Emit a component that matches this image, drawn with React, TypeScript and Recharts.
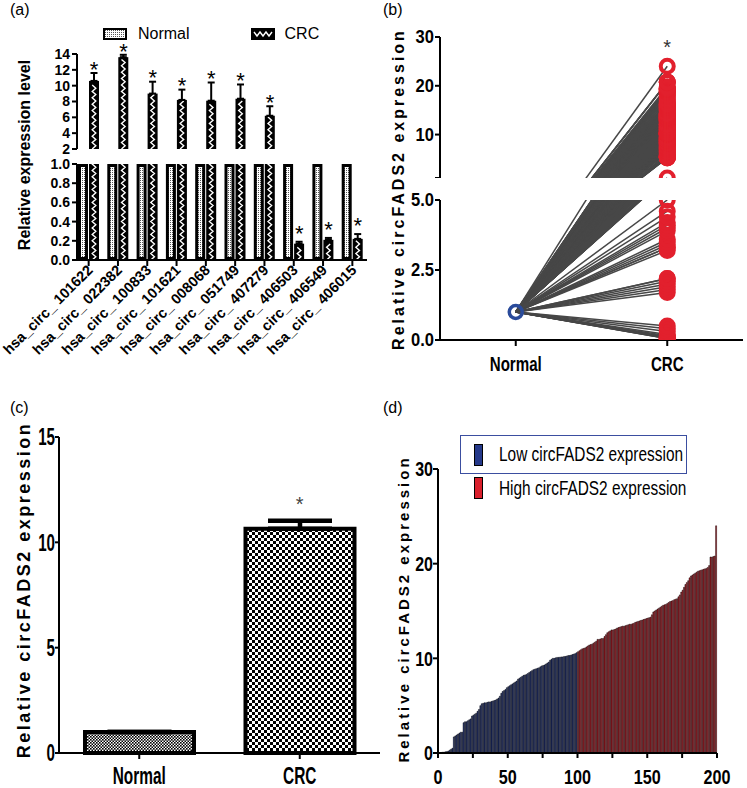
import {
  Bar,
  Cell,
  ComposedChart,
  ErrorBar,
  Legend,
  Line,
  Scatter,
  XAxis,
  YAxis,
} from "recharts";

const FONT = '"Liberation Sans", Arial, sans-serif';
const BLUE = "#25398a";
const RED = "#d91f2c";
const RING_RED = "#e2202d";
const RING_BLUE = "#2a4b9b";

// (a) candidate circRNAs, normal vs CRC
const circNames = [
  "hsa_circ_ 101622",
  "hsa_circ_ 022382",
  "hsa_circ_ 100833",
  "hsa_circ_ 101621",
  "hsa_circ_ 008068",
  "hsa_circ_ 051749",
  "hsa_circ_ 407279",
  "hsa_circ_ 406503",
  "hsa_circ_ 406549",
  "hsa_circ_ 406015",
];
const normalLevels = [1, 1, 1, 1, 1, 1, 1, 1, 1, 1];
const crcLevels = [10.6, 13.6, 9.0, 8.2, 8.1, 8.35, 6.2, 0.17, 0.21, 0.22];
const crcErrors = [1.0, 0.3, 1.5, 1.3, 2.3, 1.8, 1.2, 0.02, 0.02, 0.05];
const upperTicks = [2, 4, 6, 8, 10, 12, 14];
const lowerTicks = [0, 0.2, 0.4, 0.6, 0.8, 1];
const UPPER_FLOOR = 2;
const LOWER_CEIL = 1;

// (b) / (d) circFADS2 in tumour tissue, sorted
const lowGroup = [
  0.05, 0.05, 0.06, 0.08, 0.1, 0.12, 0.15, 0.2, 0.3, 0.4, 0.5, 1.7, 1.8, 1.9,
  2.0, 2.1, 2.2, 2.2, 3.2, 3.3, 3.3, 3.4, 3.5, 3.6, 3.9, 4.0, 4.1, 4.2, 4.4,
  4.6, 5.0, 5.2, 5.25, 5.3, 5.3, 5.35, 5.4, 5.4, 5.45, 5.5, 5.55, 5.6, 5.7,
  5.8, 6.0, 6.3, 6.5, 6.6, 6.7, 6.9, 7.0, 7.1, 7.2, 7.3, 7.4, 7.5, 7.6, 7.8,
  7.9, 8.0, 8.1, 8.2, 8.25, 8.3, 8.4, 8.5, 8.6, 8.7, 8.8, 8.85, 8.9, 8.95,
  9.0, 9.1, 9.2, 9.25, 9.3, 9.4, 9.5, 9.6, 9.8, 9.9, 10.0, 10.0, 10.05, 10.1,
  10.1, 10.12, 10.15, 10.15, 10.2, 10.2, 10.25, 10.3, 10.3, 10.35, 10.4,
  10.45, 10.5, 10.6,
];
const highGroup = [
  10.7, 10.8, 10.9, 11.0, 11.05, 11.1, 11.2, 11.3, 11.4, 11.45, 11.5, 11.6,
  11.7, 11.8, 12.0, 12.0, 12.05, 12.1, 12.1, 12.3, 12.5, 12.7, 12.8, 12.9,
  13.0, 13.0, 13.05, 13.1, 13.2, 13.25, 13.3, 13.35, 13.4, 13.4, 13.45, 13.5,
  13.55, 13.6, 13.6, 13.65, 13.7, 13.8, 13.85, 13.9, 13.95, 14.0, 14.05, 14.1,
  14.15, 14.2, 14.25, 14.3, 14.35, 14.6, 14.9, 15.0, 15.1, 15.2, 15.3, 15.4,
  15.5, 15.6, 15.65, 15.7, 15.8, 15.9, 16.0, 16.05, 16.1, 16.2, 16.25, 16.3,
  16.5, 16.7, 17.0, 17.2, 17.5, 17.8, 18.0, 18.2, 18.5, 18.7, 18.8, 18.9,
  19.0, 19.1, 19.2, 19.25, 19.3, 19.35, 19.4, 19.45, 19.5, 19.6, 19.8, 20.7,
  20.7, 20.75, 20.8, 24.0,
];
const normalLevel = 1;
const pairedUpperTicks = [5, 10, 20, 30];
const pairedLowerTicks = [0, 2.5, 5];
const pairedStarLevel = 28.8;

// (c) mean expression
const groupNames = ["Normal", "CRC"];
const groupMeans = [1, 10.65];
const groupErrors = [0, 0.38];
const meanTicks = [0, 5, 10, 15];

// (d) ranked samples
const rankTicks = [0, 25, 50, 75, 100, 125, 150, 175, 200];
const rankLabels = [0, 50, 100, 150, 200];
const rankedLevelTicks = [0, 10, 20, 30];

// broken axis of (b): 0-5 below the gap, 5-30 compressed above it
const BREAK_AT = 5;
const GAP_UNITS = 22 / 28;
const UPPER_RATIO = 141 / 28 / 25;
const brokenLevel = (v: number) =>
  v <= BREAK_AT ? v : BREAK_AT + GAP_UNITS + (v - BREAK_AT) * UPPER_RATIO;

const circRows = circNames.map((name, i) => {
  const up = crcLevels[i] > UPPER_FLOOR;
  return {
    name,
    normal: normalLevels[i],
    crc: crcLevels[i],
    crcErr: [0, crcErrors[i]],
    upperNormal: normalLevels[i] > UPPER_FLOOR ? normalLevels[i] : null,
    upperCrc: up ? crcLevels[i] : null,
    upperErr: up ? [0, crcErrors[i]] : null,
    upperStar: up ? crcLevels[i] + crcErrors[i] : null,
    lowerStar: crcLevels[i] < LOWER_CEIL ? crcLevels[i] + crcErrors[i] : null,
  };
});

const pairedValues = [...lowGroup, ...highGroup];
const pairedLines = pairedValues.map((v) => [
  { x: 0, y: brokenLevel(normalLevel) },
  { x: 1, y: brokenLevel(v) },
]);
const crcDots = pairedValues.map((v) => ({ x: 1, y: brokenLevel(v) }));
const normalDots = [{ x: 0, y: brokenLevel(normalLevel) }];
const pairedStar = [{ x: 1, y: brokenLevel(pairedStarLevel) }];
const upperTicksBroken = pairedUpperTicks.map(brokenLevel);

const groupRows = groupNames.map((name, i) => ({
  name,
  mean: groupMeans[i],
  err: [0, groupErrors[i]],
  star: groupErrors[i] ? groupMeans[i] + groupErrors[i] : null,
}));

const rankedRows = pairedValues.map((value, i) => ({
  rank: i + 0.5,
  value,
  high: i >= lowGroup.length,
}));

const axisStroke = { stroke: "#000", strokeWidth: 2 };

function narrowTick(size: number, side: "left" | "bottom", squeeze: number) {
  return (props: any) => {
    const { x, y, payload, index, tickFormatter } = props;
    const label = tickFormatter ? tickFormatter(payload.value, index) : payload.value;
    return (
      <text
        transform={`translate(${x},${y}) scale(${squeeze},1)`}
        textAnchor={side === "left" ? "end" : "middle"}
        dy={side === "left" ? "0.36em" : "0.75em"}
        fontSize={size}
        fontWeight={700}
        fill="#000"
      >
        {label}
      </text>
    );
  };
}

const RotatedTick = (props: any) => {
  const { x, y, payload } = props;
  const tx = x + 5;
  const ty = y + 3;
  return (
    <text
      x={tx}
      y={ty}
      transform={`rotate(-45 ${tx} ${ty})`}
      textAnchor="end"
      fontSize={14.5}
      fontWeight={700}
      fill="#000"
    >
      {payload.value}
    </text>
  );
};

function starShape(key: string, dx: number, lift: number, size: number, color = "#000") {
  return (props: any) => {
    const { cx, cy, payload } = props;
    if (payload?.[key] == null || !Number.isFinite(cx) || !Number.isFinite(cy)) return <g />;
    return (
      <text x={cx + dx} y={cy - lift + size * 0.58} textAnchor="middle" fontSize={size} fill={color}>
        *
      </text>
    );
  };
}

function patternBar(fillId: string, strokeW: number) {
  return (props: any) => {
    let { x, y, width, height } = props;
    if (height < 0) {
      y += height;
      height = -height;
    }
    if (!height) return <g />;
    const h = strokeW / 2;
    return (
      <rect
        x={x + h}
        y={y + h}
        width={Math.max(width - strokeW, 0)}
        height={Math.max(height - strokeW, 0)}
        fill={`url(#${fillId})`}
        stroke="#000"
        strokeWidth={strokeW}
      />
    );
  };
}

const ZigzagBar = (props: any) => {
  let { x, y, width, height } = props;
  if (height < 0) {
    y += height;
    height = -height;
  }
  if (!height) return <g />;
  const mid = x + width / 2;
  const step = 3.2;
  let d = `M${mid - 1.8},${y + height}`;
  let k = 0;
  for (let yy = y + height - step; yy > y + 1; yy -= step) {
    k += 1;
    d += ` L${mid + (k % 2 ? 1.8 : -1.8)},${yy}`;
  }
  return (
    <g>
      <rect x={x} y={y} width={width} height={height} fill="#000" />
      <path d={d} stroke="#fff" strokeWidth={1.4} fill="none" />
    </g>
  );
};

const RedRing = (props: any) =>
  Number.isFinite(props.cy) ? (
    <circle cx={props.cx} cy={props.cy} r={6.5} fill="none" stroke={RING_RED} strokeWidth={4} />
  ) : (
    <g />
  );

const BlueRing = (props: any) => (
  <circle cx={props.cx} cy={props.cy} r={6.5} fill="none" stroke={RING_BLUE} strokeWidth={3.5} />
);

function ScreeningLegend() {
  return (
    <div style={{ display: "flex", alignItems: "center", fontSize: 16, whiteSpace: "nowrap", height: 18 }}>
      <svg width={24} height={12} style={{ flexShrink: 0 }}>
        <rect x={1} y={1} width={22} height={10} fill="url(#fineA)" stroke="#000" strokeWidth={2} />
      </svg>
      <span style={{ marginLeft: 11 }}>Normal</span>
      <svg width={24} height={12} style={{ marginLeft: 61, flexShrink: 0 }}>
        <rect x={0} y={0} width={24} height={12} fill="#000" />
        <path d="M3,4 L6,8 L9,4 L12,8 L15,4 L18,8 L21,4" stroke="#fff" strokeWidth={1.4} fill="none" />
      </svg>
      <span style={{ marginLeft: 10 }}>CRC</span>
    </div>
  );
}

function RankLegend() {
  const item = (color: string, text: string, h: number) => (
    <div style={{ display: "flex", alignItems: "center", height: h }}>
      <span
        style={{
          display: "inline-block",
          flexShrink: 0,
          width: 7,
          height: 20,
          background: color,
          border: "1px solid #000",
          marginLeft: 13,
        }}
      />
      <span
        style={{
          marginLeft: 16,
          fontSize: 20,
          display: "inline-block",
          transform: "scaleX(0.77)",
          transformOrigin: "left center",
          whiteSpace: "nowrap",
        }}
      >
        {text}
      </span>
    </div>
  );
  return (
    <div style={{ width: 227, fontFamily: FONT, color: "#000" }}>
      <div style={{ border: "1px solid #3b4ea0", height: 37, overflow: "hidden" }}>
        {item(BLUE, "Low circFADS2 expression", 37)}
      </div>
      <div style={{ marginLeft: 1 }}>{item(RED, "High circFADS2 expression", 28)}</div>
    </div>
  );
}

function AxisTitle({ x, y, size, spacing, weight = 700, children }: any) {
  return (
    <div
      style={{
        position: "absolute",
        left: x,
        top: y,
        transform: "translate(-50%, -50%) rotate(-90deg)",
        fontSize: size,
        fontWeight: weight,
        letterSpacing: spacing,
        whiteSpace: "nowrap",
        lineHeight: 1,
      }}
    >
      {children}
    </div>
  );
}

function Tag({ x, y, children }: any) {
  return <div style={{ position: "absolute", left: x, top: y, fontSize: 16 }}>{children}</div>;
}

function Patterns() {
  return (
    <svg width={0} height={0} style={{ position: "absolute" }}>
      <defs>
        <pattern id="fineA" width={2} height={2} patternUnits="userSpaceOnUse">
          <rect width={2} height={2} fill="#fff" />
          <rect width={1} height={1} fill="#555" />
        </pattern>
        <pattern id="fineC" width={3} height={3} patternUnits="userSpaceOnUse">
          <rect width={3} height={3} fill="#fff" />
          <rect width={1.6} height={1.6} fill="#000" />
          <rect x={1.5} y={1.5} width={1.6} height={1.6} fill="#000" />
        </pattern>
        <pattern id="checkC" width={6} height={6} patternUnits="userSpaceOnUse">
          <rect width={6} height={6} fill="#fff" />
          <rect width={3} height={3} fill="#000" />
          <rect x={3} y={3} width={3} height={3} fill="#000" />
        </pattern>
      </defs>
    </svg>
  );
}

function PairLines() {
  return (
    <>
      {pairedLines.map((d, i) => (
        <Line
          key={i}
          data={d}
          dataKey="y"
          stroke="#474747"
          strokeWidth={1.5}
          dot={false}
          activeDot={false}
          isAnimationActive={false}
        />
      ))}
    </>
  );
}

export default function App() {
  return (
    <div
      style={{
        position: "absolute",
        left: 0,
        top: 0,
        width: 747,
        height: 788,
        background: "#fff",
        fontFamily: FONT,
        overflow: "hidden",
      }}
    >
      <Patterns />
      <Tag x={10} y={1}>(a)</Tag>
      <Tag x={383} y={1}>(b)</Tag>
      <Tag x={10} y={399}>(c)</Tag>
      <Tag x={383} y={399}>(d)</Tag>

      {/* (a) upper segment */}
      <div style={{ position: "absolute", left: 0, top: 0 }}>
        <ComposedChart
          width={375}
          height={158}
          data={circRows}
          margin={{ top: 54, right: 8, bottom: 9, left: 0 }}
          barSize={10}
          barGap={1}
        >
          <XAxis dataKey="name" hide padding={{ left: -3, right: 0 }} />
          <YAxis
            domain={[UPPER_FLOOR, 14]}
            ticks={upperTicks}
            interval={0}
            width={77}
            axisLine={axisStroke}
            tickLine={axisStroke}
            tickSize={5}
            tick={{ fontSize: 14, fontWeight: 700, fill: "#000" }}
          />
          <Legend
            content={ScreeningLegend}
            layout="vertical"
            align="center"
            verticalAlign="middle"
            wrapperStyle={{ top: 25, left: 103 }}
          />
          <Bar dataKey="upperNormal" shape={patternBar("fineA", 3)} isAnimationActive={false} />
          <Bar dataKey="upperCrc" shape={ZigzagBar} isAnimationActive={false}>
            <ErrorBar dataKey="upperErr" width={3.5} stroke="#000" strokeWidth={2} />
          </Bar>
          <Scatter dataKey="upperStar" shape={starShape("upperStar", 5.5, 9, 22)} isAnimationActive={false} />
        </ComposedChart>
      </div>

      {/* (a) lower segment */}
      <div style={{ position: "absolute", left: 0, top: 150 }}>
        <ComposedChart
          width={375}
          height={240}
          data={circRows}
          margin={{ top: 14, right: 8, bottom: 0, left: 0 }}
          barSize={10}
          barGap={1}
        >
          <XAxis
            dataKey="name"
            interval={0}
            height={130}
            padding={{ left: -3, right: 0 }}
            tick={RotatedTick}
            axisLine={axisStroke}
            tickLine={axisStroke}
            tickSize={6}
          />
          <YAxis
            domain={[0, LOWER_CEIL]}
            ticks={lowerTicks}
            interval={0}
            allowDataOverflow
            width={77}
            tickFormatter={(v: number) => v.toFixed(1)}
            axisLine={axisStroke}
            tickLine={axisStroke}
            tickSize={5}
            tick={{ fontSize: 14, fontWeight: 700, fill: "#000" }}
          />
          <Bar dataKey="normal" shape={patternBar("fineA", 3)} isAnimationActive={false} />
          <Bar dataKey="crc" shape={ZigzagBar} isAnimationActive={false}>
            <ErrorBar dataKey="crcErr" width={3.5} stroke="#000" strokeWidth={2} />
          </Bar>
          <Scatter dataKey="lowerStar" shape={starShape("lowerStar", 5.5, 14, 22)} isAnimationActive={false} />
        </ComposedChart>
      </div>
      <AxisTitle x={25} y={155} size={16} spacing={0}>
        Relative expression level
      </AxisTitle>

      {/* (b) upper segment */}
      <div style={{ position: "absolute", left: 380, top: 0 }}>
        <ComposedChart width={367} height={178} margin={{ top: 37, right: 4, bottom: 0, left: 0 }}>
          <XAxis type="number" dataKey="x" domain={[-0.5, 1.5]} hide />
          <YAxis
            type="number"
            dataKey="y"
            domain={[brokenLevel(BREAK_AT), brokenLevel(30)]}
            ticks={upperTicksBroken}
            interval={0}
            allowDataOverflow
            width={60}
            tickFormatter={(t: number) => {
              const v = pairedUpperTicks[upperTicksBroken.indexOf(t)];
              return v === BREAK_AT ? "" : String(v);
            }}
            axisLine={axisStroke}
            tickLine={axisStroke}
            tickSize={5}
            tickMargin={1}
            tick={narrowTick(18, "left", 0.92)}
          />
          {PairLines()}
          <Scatter data={crcDots} shape={RedRing} isAnimationActive={false} />
          <Scatter data={pairedStar} shape={starShape("y", 0, 0, 20, "#333")} isAnimationActive={false} />
        </ComposedChart>
      </div>

      {/* (b) lower segment */}
      <div style={{ position: "absolute", left: 380, top: 178 }}>
        <ComposedChart width={367} height={200} margin={{ top: 22, right: 4, bottom: 0, left: 0 }}>
          <XAxis
            type="number"
            dataKey="x"
            domain={[-0.5, 1.5]}
            ticks={[0, 1]}
            interval={0}
            height={38}
            tickFormatter={(v: number) => groupNames[v]}
            axisLine={axisStroke}
            tickLine={axisStroke}
            tickSize={6}
            tickMargin={9}
            tick={narrowTick(21, "bottom", 0.72)}
          />
          <YAxis
            type="number"
            dataKey="y"
            domain={[0, BREAK_AT]}
            ticks={pairedLowerTicks}
            interval={0}
            allowDataOverflow
            width={60}
            tickFormatter={(v: number) => v.toFixed(1)}
            axisLine={axisStroke}
            tickLine={axisStroke}
            tickSize={5}
            tickMargin={1}
            tick={narrowTick(18, "left", 0.92)}
          />
          {PairLines()}
          <Scatter data={crcDots} shape={RedRing} isAnimationActive={false} />
          <Scatter data={normalDots} shape={BlueRing} isAnimationActive={false} />
        </ComposedChart>
      </div>
      <AxisTitle x={399} y={189} size={16} spacing={3}>
        Relative circFADS2 expression
      </AxisTitle>

      {/* (c) */}
      <div style={{ position: "absolute", left: 0, top: 400 }}>
        <ComposedChart width={380} height={388} data={groupRows} margin={{ top: 37, right: 0, bottom: 0, left: 0 }}>
          <XAxis
            dataKey="name"
            height={35}
            interval={0}
            axisLine={axisStroke}
            tickLine={axisStroke}
            tickSize={6}
            tickMargin={8}
            tick={narrowTick(23, "bottom", 0.67)}
          />
          <YAxis
            domain={[0, 15]}
            ticks={meanTicks}
            interval={0}
            width={59}
            axisLine={axisStroke}
            tickLine={axisStroke}
            tickSize={4}
            tickMargin={0}
            tick={narrowTick(23, "left", 0.66)}
          />
          <Bar dataKey="mean" barSize={109} stroke="#000" strokeWidth={4} isAnimationActive={false}>
            <Cell fill="url(#fineC)" />
            <Cell fill="url(#checkC)" />
            <ErrorBar dataKey="err" width={32} stroke="#000" strokeWidth={4.5} />
          </Bar>
          <Scatter dataKey="star" shape={starShape("star", 0, 21, 20, "#444")} isAnimationActive={false} />
        </ComposedChart>
      </div>
      <AxisTitle x={24} y={590} size={18} spacing={2.5}>
        Relative circFADS2 expression
      </AxisTitle>

      {/* (d) */}
      <div style={{ position: "absolute", left: 380, top: 400 }}>
        <ComposedChart
          width={367}
          height={388}
          data={rankedRows}
          margin={{ top: 69, right: 30, bottom: 0, left: 0 }}
          barCategoryGap={0}
        >
          <XAxis
            type="number"
            dataKey="rank"
            domain={[0, 200]}
            ticks={rankTicks}
            interval={0}
            height={35}
            tickFormatter={(v: number) => (rankLabels.includes(v) ? String(v) : "")}
            axisLine={axisStroke}
            tickLine={axisStroke}
            tickSize={5}
            tickMargin={10}
            tick={narrowTick(21, "bottom", 0.77)}
          />
          <YAxis
            domain={[0, 30]}
            ticks={rankedLevelTicks}
            interval={0}
            width={58}
            axisLine={axisStroke}
            tickLine={axisStroke}
            tickSize={5}
            tickMargin={0}
            tick={narrowTick(20, "left", 0.8)}
          />
          <Legend
            content={RankLegend}
            layout="vertical"
            align="center"
            verticalAlign="middle"
            wrapperStyle={{ top: 35, left: 80 }}
          />
          <Bar dataKey="value" stroke="#000" strokeWidth={0.5} isAnimationActive={false}>
            {rankedRows.map((r, i) => (
              <Cell key={i} fill={r.high ? RED : BLUE} />
            ))}
          </Bar>
        </ComposedChart>
      </div>
      <AxisTitle x={403} y={609} size={15} spacing={3}>
        Relative circFADS2 expression
      </AxisTitle>
    </div>
  );
}
